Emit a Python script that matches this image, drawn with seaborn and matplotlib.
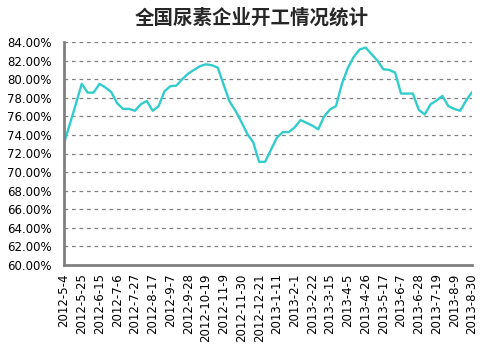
import matplotlib
matplotlib.use("Agg")
import matplotlib.pyplot as plt
import seaborn as sns
import pandas as pd
import numpy as np

title = "全国尿素企业开工情况统计"
start_date = "2012-05-04"
n_weeks = 70
rates = [73.1, 75.2, 77.3, 79.5, 78.55, 78.55, 79.5, 79.1, 78.6, 77.4,
         76.8, 76.8, 76.6, 77.3, 77.65, 76.6, 77.1, 78.7, 79.25, 79.3,
         80.0, 80.6, 81.0, 81.4, 81.6, 81.5, 81.25, 79.4, 77.6, 76.6,
         75.4, 74.1, 73.2, 71.1, 71.1, 72.4, 73.7, 74.3, 74.3, 74.8,
         75.6, 75.3, 75.0, 74.6, 76.0, 76.75, 77.1, 79.5, 81.2, 82.4,
         83.2, 83.4, 82.7, 82.0, 81.06, 81.0, 80.7, 78.45, 78.45, 78.45,
         76.7, 76.2, 77.3, 77.7, 78.2, 77.1, 76.8, 76.6, 77.7, 78.6]
y_ticks = [60, 62, 64, 66, 68, 70, 72, 74, 76, 78, 80, 82, 84]

dates = pd.date_range(start_date, periods=n_weeks, freq="7D")
labels = [f"{d.year}-{d.month}-{d.day}" for d in dates]
df = pd.DataFrame({"idx": np.arange(n_weeks), "rate": rates, "label": labels})

sns.set_theme(style="white")
plt.rcParams["font.family"] = ["DejaVu Sans", "Noto Sans CJK SC"]

fig = plt.figure(figsize=(5.03, 3.51), dpi=100)
ax = fig.add_axes([64 / 503, 1 - 265 / 351, (472 - 64) / 503, (265 - 42) / 351])

sns.lineplot(data=df, x="idx", y="rate", ax=ax, color="#33CCCC", linewidth=1.7)

ax.set_xlim(0, n_weeks - 1)
ax.set_ylim(60, 84)
ax.set_yticks(y_ticks)
ax.set_yticklabels([f"{v:.2f}%" for v in y_ticks], fontsize=8.5)
xt = list(range(0, n_weeks, 3))
ax.set_xticks(xt)
ax.set_xticklabels([labels[i] for i in xt], rotation=90, fontsize=8.5)
ax.set_xlabel("")
ax.set_ylabel("")

for v in y_ticks[1:]:
    ax.axhline(v, color="#808080", linewidth=0.9, linestyle=(0, (3, 3)), zorder=0)

for s in ["top", "right"]:
    ax.spines[s].set_visible(False)
for s in ["left", "bottom"]:
    ax.spines[s].set_color("#808080")
    ax.spines[s].set_linewidth(2)
ax.tick_params(axis="both", direction="in", length=4, width=1.5, color="#808080",
               labelcolor="black")
ax.tick_params(axis="y", pad=9)
ax.tick_params(axis="x", pad=6)

fig.text(0.5, 1 - 18 / 351, title, ha="center", va="center", fontsize=14,
         fontweight="bold", family=["Noto Sans CJK SC", "DejaVu Sans"])

fig.savefig("out.png", dpi=100)
